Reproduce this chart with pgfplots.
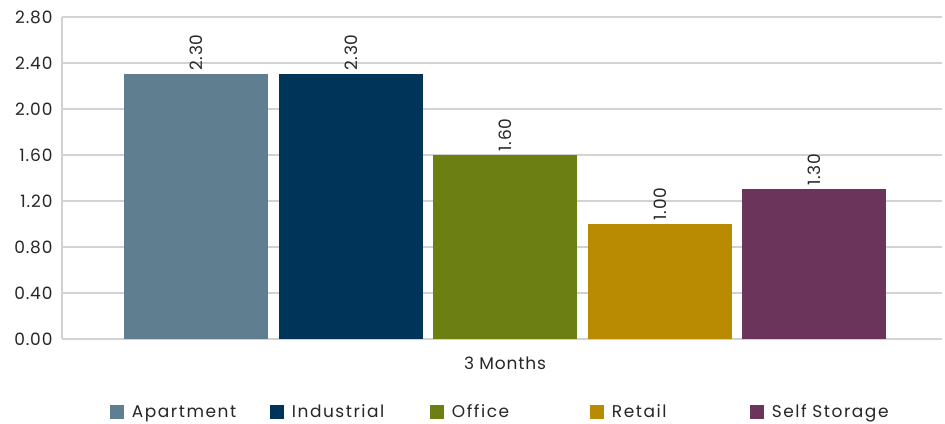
\documentclass[border=0pt]{standalone}
\usepackage{pgfplots}
\pgfplotsset{compat=1.18}
\usepackage{fontspec}
\setmainfont{Poppins}[LetterSpace=5]
\definecolor{cApt}{RGB}{95,127,145}
\definecolor{cInd}{RGB}{0,52,89}
\definecolor{cOff}{RGB}{107,127,19}
\definecolor{cRet}{RGB}{185,139,2}
\definecolor{cSS}{RGB}{107,52,91}
\definecolor{gridc}{RGB}{210,210,210}
\pgfplotsset{/pgf/number format/assume math mode=true}
\begin{document}
\begin{tikzpicture}
\begin{axis}[name=ax, scale only axis, width=880pt, height=322pt,
  xmin=0, xmax=880, ymin=0, ymax=2.8,
  ytick={0,0.4,0.8,1.2,1.6,2.0,2.4,2.8},
  yticklabel style={/pgf/number format/.cd, fixed, fixed zerofill, precision=2, /tikz/.cd, xshift=-6pt},
  ymajorgrids, grid style={draw=gridc, line width=1.2pt},
  axis lines*=left, axis line style={draw=gridc, line width=1.2pt},
  tick style={draw=none},
  xtick={443}, xticklabels={3 Months},
  xticklabel style={yshift=-10pt},
  ticklabel style={font=\fontsize{17}{20}\selectfont, text=black!85},
  ybar, bar width=144, bar shift=0pt,
  nodes near coords={\pgfmathprintnumber[fixed,fixed zerofill,precision=2]{\pgfplotspointmeta}},
  every node near coord/.append style={rotate=90, anchor=west, font=\fontsize{17}{20}\selectfont, text=black!85},
  legend style={at={(0.509,-0.227)}, anchor=center, draw=none, legend columns=5,
    font=\fontsize{17}{20}\selectfont\addfontfeatures{LetterSpace=9}, text=black!85,
    /tikz/every odd column/.append style={column sep=6pt},
    /tikz/every even column/.append style={text width=136pt, align=left}},
  legend image code/.code={\fill[#1,draw=none] (0pt,-7pt) rectangle (14pt,7pt);},
]
\addplot[fill=cApt, draw=none] coordinates {(134,2.3)};
\addplot[fill=cInd, draw=none] coordinates {(289,2.3)};
\addplot[fill=cOff, draw=none] coordinates {(443,1.6)};
\addplot[fill=cRet, draw=none] coordinates {(598,1.0)};
\addplot[fill=cSS, draw=none] coordinates {(752,1.3)};
\legend{Apartment, Industrial, Office, Retail, Self Storage}
\end{axis}
\pgfresetboundingbox
\path ([xshift=-62pt,yshift=-85pt]ax.south west) rectangle ([xshift=3pt,yshift=17pt]ax.north east);
\end{tikzpicture}
\end{document}
